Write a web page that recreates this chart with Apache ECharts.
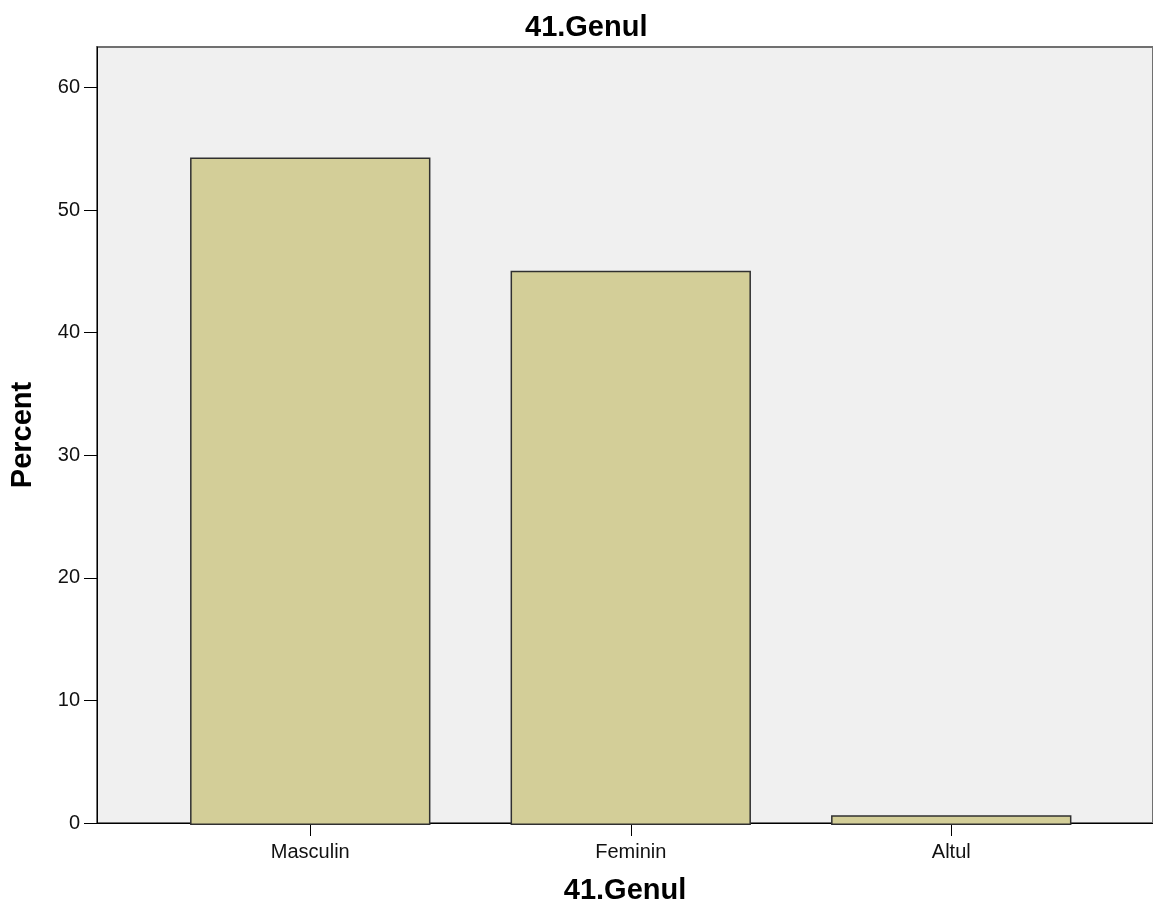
<!DOCTYPE html>
<html><head><meta charset="utf-8">
<script src="https://cdn.jsdelivr.net/npm/echarts@6/dist/echarts.min.js"></script>
<style>html,body{margin:0;padding:0;background:#fff}#c{width:1153px;height:910px}</style>
</head><body><div id="c"></div>
<script>
var categories = ['Masculin', 'Feminin', 'Altul'];
var percentValues = [54.3, 45.1, 0.8];
var yTickValues = [0, 10, 20, 30, 40, 50, 60];
var titleText = '41.Genul';
var xAxisName = '41.Genul';
var yAxisName = 'Percent';

var chart = echarts.init(document.getElementById('c'));
var font = 'Liberation Sans, Arial, sans-serif';
chart.setOption({
  animation: false,
  title: { text: titleText, left: 520, top: 8, textStyle: { fontFamily: font, fontSize: 29, fontWeight: 'bold', color: '#000' } },
  grid: [
    { left: 97, right: 0, top: 47, bottom: 85, show: true, backgroundColor: '#F0F0F0', borderColor: '#707070', borderWidth: 2 },
    { left: 150, right: 41.5, top: 47, bottom: 85 }
  ],
  xAxis: [
    { gridIndex: 0, type: 'value', min: 0, max: 1, axisLine: { show: true, lineStyle: { color: '#000', width: 1 } }, axisTick: { show: false }, axisLabel: { show: false }, splitLine: { show: false },
      name: xAxisName, nameLocation: 'middle', nameGap: 53, nameTextStyle: { fontFamily: font, fontSize: 29, fontWeight: 'bold', color: '#000' } },
    { gridIndex: 1, type: 'category', data: categories, axisLine: { show: false }, axisTick: { show: true, alignWithLabel: true, length: 11, lineStyle: { color: '#000' } },
      axisLabel: { fontFamily: font, fontSize: 20, color: '#111', margin: 17 } }
  ],
  yAxis: [
    { gridIndex: 0, type: 'value', min: 0, max: 63.3, interval: 10, axisLine: { show: true, lineStyle: { color: '#000', width: 1 } },
      axisTick: { show: true, length: 13, customValues: yTickValues, lineStyle: { color: '#000' } },
      axisLabel: { fontFamily: font, fontSize: 20, color: '#111', margin: 17, customValues: yTickValues }, splitLine: { show: false },
      name: yAxisName, nameLocation: 'middle', nameGap: 60, nameTextStyle: { fontFamily: font, fontSize: 29, fontWeight: 'bold', color: '#000' } },
    { gridIndex: 1, type: 'value', min: 0, max: 63.3, show: false }
  ],
  series: [{
    type: 'bar', xAxisIndex: 1, yAxisIndex: 1, data: percentValues, barCategoryGap: '25%',
    itemStyle: { color: '#D3CE98', borderColor: '#303030', borderWidth: 1.5 }
  }]
});
</script></body></html>
